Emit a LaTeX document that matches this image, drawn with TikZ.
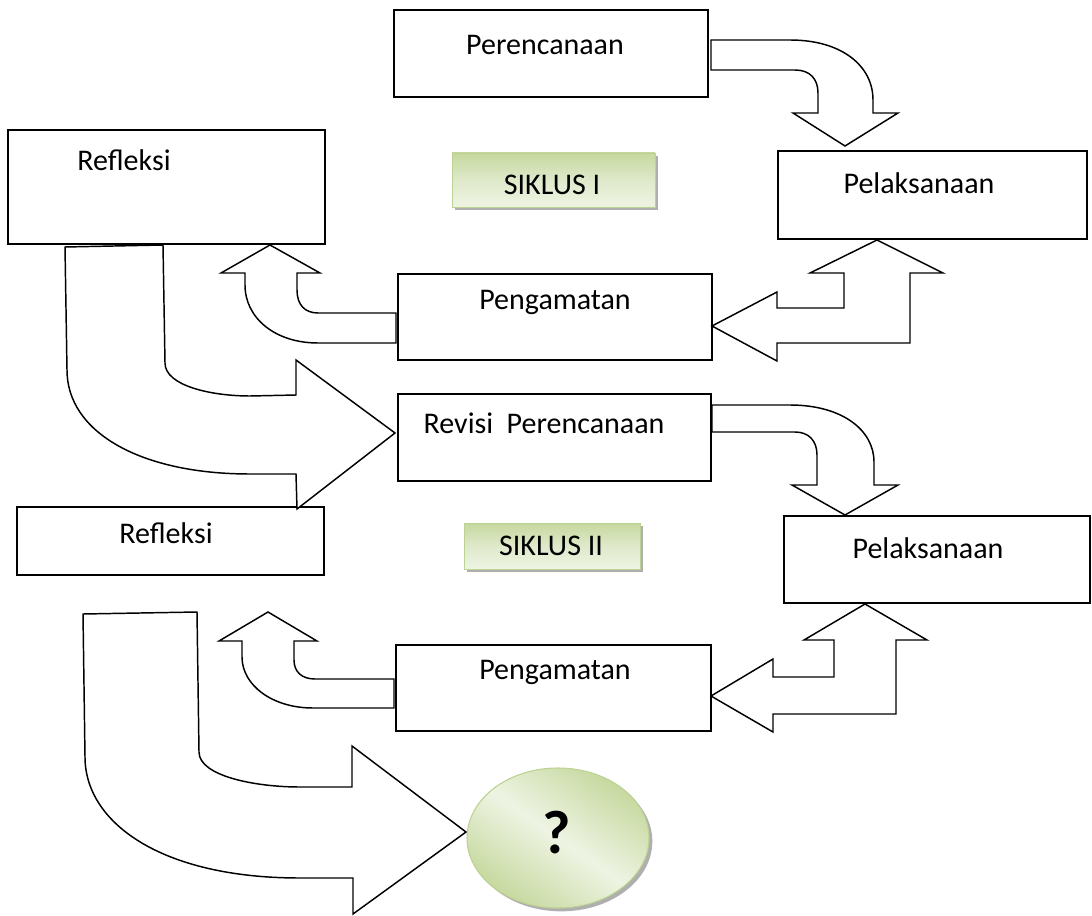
\documentclass[tikz,border=0pt]{standalone}
\usepackage{fontspec}
\setmainfont{Carlito}
\usetikzlibrary{fit,shapes.geometric,shadows}
\definecolor{gA}{HTML}{C6D89E}
\definecolor{gB}{HTML}{EEF4E3}
\definecolor{gC}{HTML}{DFE9CB}
\definecolor{gE}{HTML}{BCD292}
\begin{document}
\begin{tikzpicture}[x=0.75pt,y=-0.75pt,
  box/.style={draw, line width=1.4pt, inner sep=0pt, fill=white},
  txt/.style={font=\fontsize{22.5}{26}\selectfont, inner sep=0pt},
  blk/.style={draw, line width=1.1pt, fill=white, line join=miter},
  greenbox/.style={draw=gE, line width=0.6pt, inner sep=0pt, top color=gA, bottom color=gB, middle color=gC,
    drop shadow={shadow xshift=2.5pt, shadow yshift=-2.5pt, fill=black!35, opacity=0.9}}]
\useasboundingbox (0,0) rectangle (1092,916);

% boxes
\node[box, fit={(394,10)(708,97)}] (per) {};
\node[box, fit={(8,130)(325,244)}] (ref1) {};
\node[box, fit={(778,151)(1087,239)}] (pel1) {};
\node[box, fit={(398,274)(712,360)}] (pen1) {};
\node[box, fit={(398,394)(711,481)}] (rev) {};
\node[box, fit={(17,507)(324,575)}] (ref2) {};
\node[box, fit={(784,516)(1090,603)}] (pel2) {};
\node[box, fit={(396,645)(711,731)}] (pen2) {};
\node[greenbox, fit={(452,153)(655,207)}] (sik1) {};
\node[greenbox, fit={(464,523)(640,569)}] (sik2) {};
\node[ellipse, draw=gE, line width=0.8pt, minimum width=136.5pt, minimum height=105pt, inner sep=0pt,
  top color=gA, bottom color=gA, middle color=gB, shading angle=-35,
  drop shadow={shadow xshift=2.5pt, shadow yshift=-2.5pt, fill=black!35, opacity=0.9}] (q) at (558,838) {};

% texts
\node[txt] (perT) at (545,45) {Perencanaan};
\node[txt] (ref1T) at (124,160) {Refleksi};
\node[txt] (pel1T) at (919,183) {Pelaksanaan};
\node[txt] (pen1T) at (555,302) {Pengamatan};
\node[txt] (revT) at (544,423) {Revisi\hspace{0.45em}Perencanaan};
\node[txt] (ref2T) at (166,533) {Refleksi};
\node[txt] (pel2T) at (928,548) {Pelaksanaan};
\node[txt] (pen2T) at (555,672) {Pengamatan};
\node[txt] (sik1T) at (552,185) {SIKLUS I};
\node[txt] (sik2T) at (551,546) {SIKLUS II};
\node[font=\fontsize{46}{50}\selectfont\bfseries, inner sep=0pt] (qT) at (557,833) {?};

% A: Perencanaan -> Pelaksanaan 1
\draw[blk] (711,40) -- (790,40) .. controls (842,40) and (873,66) .. (873,100) -- (873,113) -- (898,113)
  -- (845,146) -- (793,113) -- (818,113) -- (818,93) .. controls (818,79) and (810,70) .. (795,70) -- (711,70) -- cycle;
% B: Revisi -> Pelaksanaan 2
\draw[blk] (712,405) -- (790,405) .. controls (842,405) and (874,430) .. (874,462) -- (874,485) -- (898,485)
  -- (845,515) -- (792,485) -- (817,485) -- (817,455) .. controls (817,441) and (809,432) .. (795,432) -- (712,432) -- cycle;
% C: Pelaksanaan 1 -> Pengamatan 1
\draw[blk] (877,240) -- (943,273) -- (910,273) -- (910,343) -- (777,343) -- (777,361) -- (712,326)
  -- (777,292) -- (777,308) -- (844,308) -- (844,273) -- (810,273) -- cycle;
% D: Pengamatan 1 -> Refleksi 1
\draw[blk] (270,245) -- (320,273) -- (297,273) -- (297,290) .. controls (297,305) and (305,313) .. (318,313)
  -- (396,313) -- (396,343) -- (318,343) .. controls (275,343) and (245,318) .. (245,285) -- (245,273) -- (221,273) -- cycle;
% E: Refleksi 1 -> Revisi
\draw[blk] (65,247) -- (163,245) -- (165,363) .. controls (165,386) and (212,396) .. (250,396) -- (296,395)
  -- (296,360) -- (395,433) -- (297,509) -- (296,474) -- (250,474) .. controls (140,474) and (67,432) .. (67,370) -- cycle;
% F: Pelaksanaan 2 -> Pengamatan 2
\draw[blk] (865,604) -- (927,640) -- (896,640) -- (896,714) -- (773,714) -- (773,732) -- (711,696)
  -- (773,659) -- (773,677) -- (834,677) -- (834,640) -- (804,640) -- cycle;
% G: Pengamatan 2 -> Refleksi 2
\draw[blk] (268,612) -- (317,641) -- (294,641) -- (294,660) .. controls (294,672) and (302,679) .. (315,679)
  -- (394,679) -- (394,708) -- (313,708) .. controls (272,708) and (242,685) .. (242,657) -- (242,641) -- (219,641) -- cycle;
% H: Refleksi 2 -> ?
\draw[blk] (83,614) -- (197,612) -- (199,752) .. controls (199,776) and (255,787) .. (300,787) -- (352,787)
  -- (352,746) -- (466,832) -- (353,914) -- (353,878) -- (300,878) .. controls (160,878) and (85,822) .. (85,757) -- cycle;
\end{tikzpicture}
\end{document}
